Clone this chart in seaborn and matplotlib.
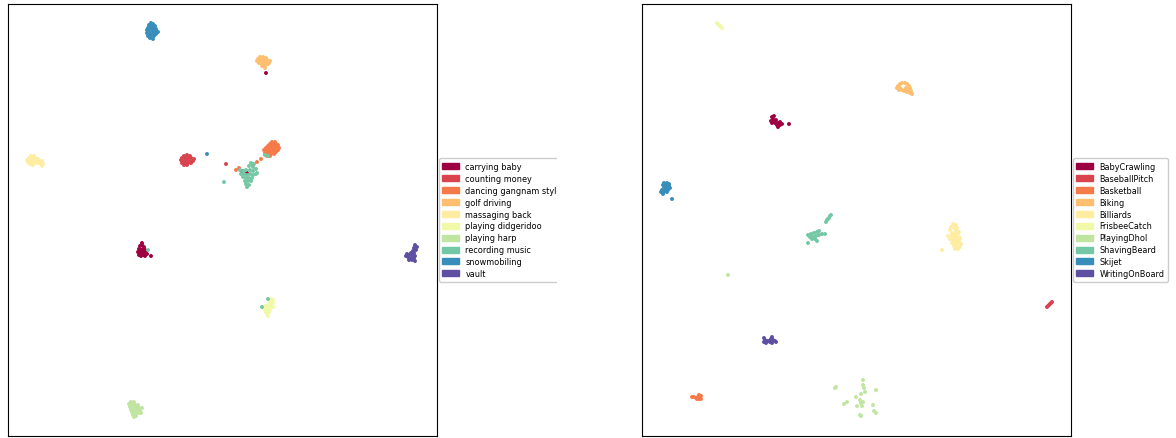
import matplotlib
matplotlib.use("Agg")
import matplotlib.pyplot as plt
import matplotlib.patches as mpatches
import seaborn as sns
import pandas as pd
import numpy as np

# ---- left panel: embedding positions (pixel-like units) ----
left_labels = ["carrying baby", "counting money", "dancing gangnam style", "golf driving",
               "massaging back", "playing didgeridoo", "playing harp", "recording music",
               "snowmobiling", "vault"]

carrying_baby = [(140,247),(142,246),(144,248),(139,250),(141,251),(143,250),(145,251),(138,253),
                 (140,254),(142,253),(144,254),(146,253),(139,256),(141,257),(143,256),(145,257),
                 (147,255),(151,257),(142,244),(266,74),(242,172),(247,174)]
counting_money = [(184,157),(187,156),(190,157),(182,159),(185,159),(188,159),(191,159),(194,160),
                  (181,161),(184,162),(187,161),(190,162),(193,162),(182,164),(185,164),(188,164),
                  (191,164),(184,166),(187,166),(226,165)]
dancing_gangnam = [(272,143),(275,143),(270,145),(273,145),(276,145),(278,146),(268,147),(271,147),
                   (274,147),(277,148),(279,149),(266,149),(269,149),(272,149),(275,150),(278,151),
                   (264,151),(267,151),(270,152),(273,152),(276,153),(265,154),(268,154),(271,155),
                   (274,155),(267,157),(270,157),(261,160),(257,163),(253,166),(239,169),(236,171)]
golf_driving = [(260,58),(263,58),(266,59),(258,60),(261,60),(264,60),(267,61),(270,62),(257,62),
                (260,62),(263,62),(266,63),(269,64),(259,64),(262,65),(265,65),(268,65),(262,67),
                (265,67),(265,69)]
massaging_back = [(31,157),(34,157),(29,159),(32,159),(35,159),(38,160),(27,161),(30,161),(33,161),
                  (36,161),(39,162),(42,162),(28,163),(31,163),(34,163),(37,164),(40,164),(43,165),
                  (30,165),(33,166),(42,167)]
playing_didgeridoo = [(271,300),(273,301),(270,303),(273,304),(268,306),(271,306),(265,307),(267,308),
                      (270,308),(273,308),(264,310),(267,310),(270,311),(266,313),(269,313),(267,315),
                      (268,317)]
playing_harp = [(131,403),(134,403),(129,405),(132,405),(135,406),(138,406),(130,408),(133,408),
                (136,408),(139,409),(142,409),(131,411),(134,411),(137,411),(140,412),(132,413),
                (135,414),(138,414),(141,414),(133,416),(136,417),(134,418)]
recording_music = [(251,164),(254,165),(249,167),(253,168),(256,170),(240,171),(243,172),(246,171),
                   (250,171),(253,172),(241,175),(244,175),(247,176),(250,175),(253,176),(256,175),
                   (243,178),(246,179),(249,179),(252,179),(245,182),(248,182),(251,182),(246,185),
                   (249,186),(247,188),(224,183),(265,156),(268,157),(148,251),(268,300),(262,308),
                   (257,174)]
snowmobiling = [(151,24),(153,25),(149,26),(152,27),(155,27),(148,29),(150,29),(153,29),(156,30),
                (147,31),(150,32),(153,31),(156,32),(158,33),(147,34),(150,35),(153,34),(156,35),
                (148,37),(151,37),(154,37),(150,39),(153,40),(207,155)]
vault = [(415,246),(417,248),(414,249),(416,251),(413,252),(411,254),(414,254),(407,255),(409,256),
         (412,256),(415,257),(406,257),(408,258),(411,259),(414,259),(409,261),(412,261),(415,262)]

# ---- right panel ----
right_labels = ["BabyCrawling", "BaseballPitch", "Basketball", "Biking", "Billiards",
                "FrisbeeCatch", "PlayingDhol", "ShavingBeard", "Skijet", "WritingOnBoard"]

baby_crawling = [(772,118),(774,117),(773,120),(771,122),(774,122),(776,121),(772,124),(775,124),
                 (778,124),(780,123),(777,126),(780,126),(782,125),(778,128),(789,125)]
baseball_pitch = [(1047,308),(1048,307),(1049,306),(1050,305),(1051,304),(1052,303)]
basketball = [(692,398),(694,398),(696,399),(698,398),(700,398),(699,400),(701,400),(697,400),
              (699,396),(701,397)]
biking = [(900,85),(902,84),(905,84),(907,85),(898,87),(909,87),(897,89),(900,89),(906,89),(910,89),
          (899,91),(902,91),(905,91),(909,91),(911,92),(907,93),(910,94),(912,95),(904,92)]
billiards = [(953,225),(956,226),(951,228),(954,229),(957,229),(950,231),(956,232),(959,233),(952,234),
             (955,235),(958,235),(948,237),(951,237),(954,238),(957,238),(960,239),(950,240),(953,241),
             (956,241),(959,242),(952,244),(955,244),(958,244),(961,245),(954,247),(957,247),(960,248),
             (955,250),(958,250),(942,251)]
frisbee_catch = [(717,24),(718,25),(719,26),(720,27),(721,28),(722,29)]
playing_dhol = [(863,381),(863,386),(864,389),(836,388),(835,389),(876,391),(865,393),(861,395),
                (856,398),(860,401),(863,403),(861,404),(857,407),(862,407),(873,406),(847,403),
                (844,405),(874,412),(876,414),(860,416),(861,417),(728,276)]
shaving_beard = [(826,223),(827,221),(828,220),(829,219),(830,217),(831,216),(808,236),(811,235),
                 (814,234),(817,233),(819,232),(810,238),(813,238),(816,237),(819,236),(822,235),
                 (812,240),(815,240),(817,242),(825,235),(808,244)]
skijet = [(664,184),(667,184),(669,185),(663,186),(666,186),(669,187),(664,188),(667,189),(670,189),
          (662,191),(665,191),(668,191),(661,193),(664,193),(667,193),(663,195),(672,200)]
writing_on_board = [(764,339),(765,341),(767,342),(769,342),(771,340),(772,338),(773,341),(775,342),
                    (776,343),(770,343),(764,343),(766,344),(772,344)]

left_groups = [carrying_baby, counting_money, dancing_gangnam, golf_driving, massaging_back,
               playing_didgeridoo, playing_harp, recording_music, snowmobiling, vault]
right_groups = [baby_crawling, baseball_pitch, basketball, biking, billiards, frisbee_catch,
                playing_dhol, shaving_beard, skijet, writing_on_board]


def to_frame(labels, groups):
    rows = []
    for lab, pts in zip(labels, groups):
        for x, y in pts:
            rows.append({"x": x, "y": y, "label": lab})
    return pd.DataFrame(rows)


cmap = matplotlib.colormaps["Spectral"]
palette = [cmap(v) for v in np.linspace(0, 1, 10)]

fig = plt.figure(figsize=(11.76, 4.39), dpi=100)
W, H = 1176, 439
ax_l = fig.add_axes([8 / W, 2 / H, 429 / W, 432 / H])
ax_r = fig.add_axes([642 / W, 2 / H, 429 / W, 432 / H])

for ax, labels, groups, xlim in [(ax_l, left_labels, left_groups, (8, 437)),
                                  (ax_r, right_labels, right_groups, (642, 1071))]:
    df = to_frame(labels, groups)
    sns.scatterplot(data=df, x="x", y="y", hue="label", hue_order=labels, palette=palette,
                    s=8, linewidth=0, ax=ax, legend=False)
    ax.set_xlim(*xlim)
    ax.set_ylim(437, 5)
    ax.set_xticks([])
    ax.set_yticks([])
    ax.set_xlabel("")
    ax.set_ylabel("")
    for sp in ax.spines.values():
        sp.set_color("black")
        sp.set_linewidth(0.8)
    handles = [mpatches.Patch(color=palette[i], label=labels[i]) for i in range(len(labels))]
    ax.legend(handles=handles, loc="center left", bbox_to_anchor=(1.0, 0.5), fontsize=5.9,
              handlelength=2.0, handleheight=0.75, labelspacing=0.36, borderpad=0.4,
              borderaxespad=0.25, framealpha=1.0)

# the left legend is cut off at the right in the reference
fig.patches.append(mpatches.Rectangle((557 / W, 0.25), 80 / W, 0.5, transform=fig.transFigure,
                                      facecolor="white", edgecolor="none", zorder=10))

fig.savefig("out.png", dpi=100)
